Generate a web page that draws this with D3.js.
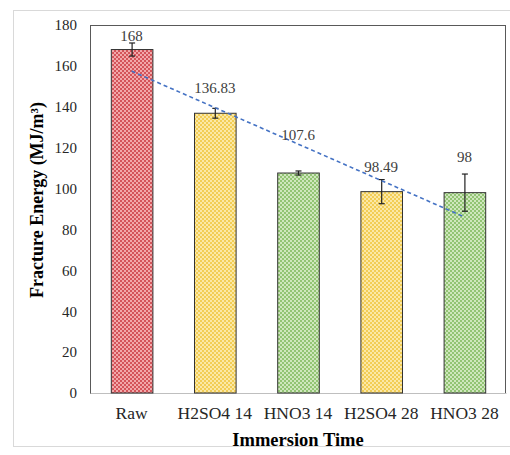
<!DOCTYPE html>
<html><head><meta charset="utf-8">
<script src="https://cdn.jsdelivr.net/npm/d3@7"></script>
<style>body{margin:0;background:#fff}svg{display:block}text{font-family:"Liberation Serif","Times New Roman",serif}</style>
</head><body>
<script>
const categories = ["Raw","H2SO4 14","HNO3 14","H2SO4 28","HNO3 28"];
const values = [168,136.83,107.6,98.49,98];
const labels = ["168","136.83","107.6","98.49","98"];
const errors = [3.2,2.4,1.0,5.9,9.1];
const yTicks = [0,20,40,60,80,100,120,140,160,180];
const colorKey = ["red","yellow","green","yellow","green"];
const labelLift = [9,20,33,20,31];

const W=510,H=455;
const svg=d3.select("body").append("svg").attr("width",W).attr("height",H);
const defs=svg.append("defs");
const pats={red:["#d4545a","#f2a8aa"],yellow:["#f2cd55","#fbe8a6"],green:["#92c474","#cfe7bd"]};
Object.entries(pats).forEach(([k,[a,b]])=>{
  const p=defs.append("pattern").attr("id","p-"+k).attr("width",4).attr("height",4).attr("patternUnits","userSpaceOnUse");
  p.append("rect").attr("width",4).attr("height",4).attr("fill",b);
  p.append("rect").attr("width",2).attr("height",2).attr("fill",a);
  p.append("rect").attr("x",2).attr("y",2).attr("width",2).attr("height",2).attr("fill",a);
});

svg.append("rect").attr("x",13.5).attr("y",10.5).attr("width",520).attr("height",436).attr("fill","none").attr("stroke","#d9d9d9");

const L=90,R=506,T=25,B=393;
const x=d3.scaleBand().domain(categories).range([L,R]).paddingInner(0.5).paddingOuter(0.25);
const y=d3.scaleLinear().domain([0,180]).range([B,T]);

svg.append("rect").attr("x",L+0.5).attr("y",T+0.5).attr("width",R-L-1).attr("height",B-T).attr("fill","none").attr("stroke","#595959").attr("stroke-width",1);

const font="Liberation Serif, Times New Roman, serif";
const yAxis=svg.append("g").attr("font-family",font).attr("transform",`translate(${L},0)`).call(d3.axisLeft(y).tickValues(yTicks).tickSize(0).tickPadding(13));
yAxis.attr("font-family",font);
yAxis.select(".domain").attr("stroke","#595959");
yAxis.selectAll("text").attr("font-family",font).attr("font-size",15).attr("fill","#262626");

const xAxis=svg.append("g").attr("transform",`translate(0,${B})`).call(d3.axisBottom(x).tickSize(0).tickPadding(15));
xAxis.attr("font-family",font);
xAxis.select(".domain").attr("stroke","#bfbfbf");
xAxis.selectAll("text").attr("font-family",font).attr("font-size",17.5).attr("fill","#262626").attr("dy","0.6em");

svg.selectAll(".bar").data(values).enter().append("rect")
  .attr("x",(d,i)=>x(categories[i])+0.5).attr("y",d=>y(d))
  .attr("width",x.bandwidth()).attr("height",d=>B-y(d))
  .attr("fill",(d,i)=>`url(#p-${colorKey[i]})`).attr("stroke","#333").attr("stroke-width",1);

const eb=svg.append("g").attr("stroke","#222").attr("stroke-width",1.2);
values.forEach((v,i)=>{
  const cx=x(categories[i])+x.bandwidth()/2+0.5;
  eb.append("line").attr("x1",cx).attr("x2",cx).attr("y1",y(v+errors[i])).attr("y2",y(v-errors[i]));
  [v+errors[i],v-errors[i]].forEach(e=>eb.append("line").attr("x1",cx-3).attr("x2",cx+3).attr("y1",y(e)).attr("y2",y(e)));
});

// linear trendline (least squares)
const n=values.length, xs=d3.range(n), mx=d3.mean(xs), my=d3.mean(values);
const slope=d3.sum(xs,i=>(i-mx)*(values[i]-my))/d3.sum(xs,i=>(i-mx)**2);
const icpt=my-slope*mx;
const cxOf=i=>x(categories[i])+x.bandwidth()/2;
svg.append("line").attr("x1",cxOf(0)).attr("y1",y(icpt)).attr("x2",cxOf(n-1)).attr("y2",y(icpt+slope*(n-1)))
  .attr("stroke","#4472c4").attr("stroke-width",1.6).attr("stroke-dasharray","4,3");

svg.selectAll(".lbl").data(labels).enter().append("text")
  .attr("x",(d,i)=>cxOf(i)).attr("y",(d,i)=>y(values[i])-labelLift[i])
  .attr("text-anchor","middle").attr("font-family",font).attr("font-size",15).attr("fill","#404040").text(d=>d);

svg.append("text").attr("transform",`translate(43,${(T+B)/2-9}) rotate(-90)`).attr("text-anchor","middle")
  .attr("font-family",font).attr("font-size",18).attr("font-weight","bold").attr("fill","#000")
  .text("Fracture Energy (MJ/m³)");
svg.append("text").attr("x",(L+R)/2).attr("y",446).attr("text-anchor","middle")
  .attr("font-family",font).attr("font-size",18.5).attr("font-weight","bold").attr("fill","#000").text("Immersion Time");
</script>
</body></html>
